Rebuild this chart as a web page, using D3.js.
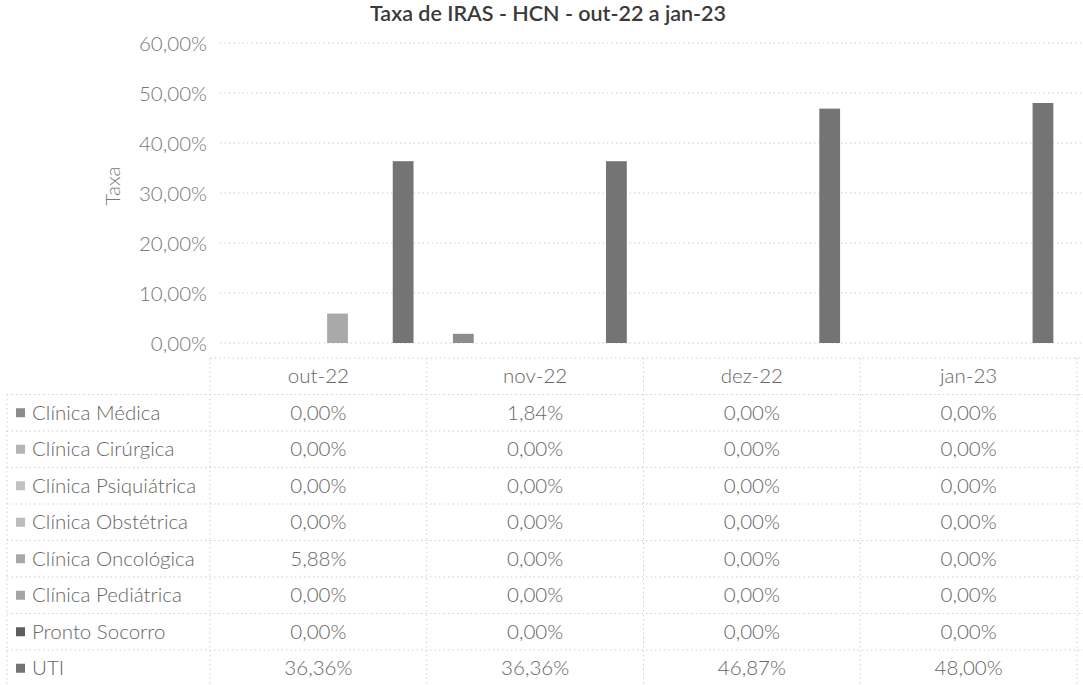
<!DOCTYPE html>
<html><head><meta charset="utf-8">
<script src="https://cdn.jsdelivr.net/npm/d3@7"></script>
<style>body{margin:0;background:#fff}svg{display:block}</style>
</head><body><svg id="c" width="1083" height="685"></svg>
<script>
const months = ["out-22","nov-22","dez-22","jan-23"];
const seriesNames = ["Clínica Médica","Clínica Cirúrgica","Clínica Psiquiátrica","Clínica Obstétrica","Clínica Oncológica","Clínica Pediátrica","Pronto Socorro","UTI"];
const medica = [0.00, 1.84, 0.00, 0.00];
const cirurgica = [0.00, 0.00, 0.00, 0.00];
const psiquiatrica = [0.00, 0.00, 0.00, 0.00];
const obstetrica = [0.00, 0.00, 0.00, 0.00];
const oncologica = [5.88, 0.00, 0.00, 0.00];
const pediatrica = [0.00, 0.00, 0.00, 0.00];
const prontoSocorro = [0.00, 0.00, 0.00, 0.00];
const uti = [36.36, 36.36, 46.87, 48.00];
const yTicks = [0, 10, 20, 30, 40, 50, 60];
const seriesColors = ["#8c8c8c","#b4b4b4","#c2c2c2","#bcbcbc","#a9a9a9","#a4a4a4","#5e5e5e","#747474"];

const values = [medica, cirurgica, psiquiatrica, obstetrica, oncologica, pediatrica, prontoSocorro, uti];
const fmt = v => v.toFixed(2).replace(".", ",") + "%";
const font = "Lato, 'Open Sans', sans-serif";
const fs = 20.5;

const svg = d3.select("#c");
const x0 = d3.scaleBand().domain(months).range([220, 1073]).paddingInner(0.1745).paddingOuter(0.087);
const x1 = d3.scaleBand().domain(seriesNames).range([0, x0.bandwidth()]).padding(0.05);
const y = d3.scaleLinear().domain([0, 60]).range([343, 43]);
const xt = d3.scaleBand().domain(months).range([210, 1077]);

// title
svg.append("text").attr("x", 548).attr("y", 21).attr("text-anchor", "middle")
  .attr("font-family", font).attr("font-size", 21.5).attr("font-weight", 600).attr("fill", "#3a3a3a")
  .text("Taxa de IRAS - HCN - out-22 a jan-23");

// gridlines
svg.append("g").selectAll("line").data(yTicks).join("line")
  .attr("x1", 220).attr("x2", 1083).attr("y1", d => y(d)).attr("y2", d => y(d))
  .attr("stroke", "#cfcfcf").attr("stroke-width", 1).attr("stroke-dasharray", "1.5,3");

// y axis
const yAxis = d3.axisLeft(y).tickValues(yTicks).tickSize(0).tickPadding(0).tickFormat(d => fmt(d));
const ya = svg.append("g").attr("transform", "translate(207,0)").call(yAxis);
ya.select(".domain").remove();
ya.selectAll("text").attr("font-family", font).attr("font-size", fs).attr("font-weight", 300).attr("fill", "#777").attr("dy", "0.35em");

svg.append("text").attr("transform", "translate(120,186) rotate(-90)").attr("text-anchor", "middle")
  .attr("font-family", font).attr("font-size", fs).attr("font-weight", 300).attr("fill", "#777").text("Taxa");

// bars
const groups = svg.append("g").selectAll("g").data(months).join("g")
  .attr("transform", d => `translate(${x0(d)},0)`);
groups.selectAll("rect").data((m, mi) => seriesNames.map((s, si) => ({s, si, v: values[si][mi]})))
  .join("rect")
  .attr("x", d => x1(d.s)).attr("width", x1.bandwidth())
  .attr("y", d => y(d.v)).attr("height", d => y(0) - y(d.v))
  .attr("fill", d => seriesColors[d.si]);

// table
const rowTop = 358, rowH = 36.5;
const grid = svg.append("g").attr("stroke", "#cfcfcf").attr("stroke-width", 1).attr("stroke-dasharray", "1.5,3");
grid.append("line").attr("x1", 210).attr("x2", 1083).attr("y1", rowTop).attr("y2", rowTop);
for (let r = 1; r <= seriesNames.length + 1; r++) {
  const yy = rowTop + r * rowH;
  grid.append("line").attr("x1", 7).attr("x2", 1083).attr("y1", yy).attr("y2", yy);
}
grid.append("line").attr("x1", 7).attr("x2", 7).attr("y1", rowTop + rowH).attr("y2", 685);
months.forEach(m => {
  grid.append("line").attr("x1", xt(m)).attr("x2", xt(m)).attr("y1", rowTop).attr("y2", 685);
});
grid.append("line").attr("x1", 1077).attr("x2", 1077).attr("y1", rowTop).attr("y2", 685);

const txt = svg.append("g").attr("font-family", font).attr("font-size", fs).attr("font-weight", 300).attr("fill", "#666");
months.forEach(m => {
  txt.append("text").attr("x", xt(m) + xt.bandwidth() / 2).attr("y", rowTop + rowH / 2).attr("dy", "0.35em")
    .attr("text-anchor", "middle").text(m);
});
seriesNames.forEach((s, si) => {
  const cy = rowTop + rowH * (si + 1) + rowH / 2;
  svg.append("rect").attr("x", 16).attr("y", cy - 4.5).attr("width", 9).attr("height", 9).attr("fill", seriesColors[si]);
  txt.append("text").attr("x", 32).attr("y", cy).attr("dy", "0.35em").text(s);
  months.forEach((m, mi) => {
    txt.append("text").attr("x", xt(m) + xt.bandwidth() / 2).attr("y", cy).attr("dy", "0.35em")
      .attr("text-anchor", "middle").text(fmt(values[si][mi]));
  });
});
</script></body></html>
